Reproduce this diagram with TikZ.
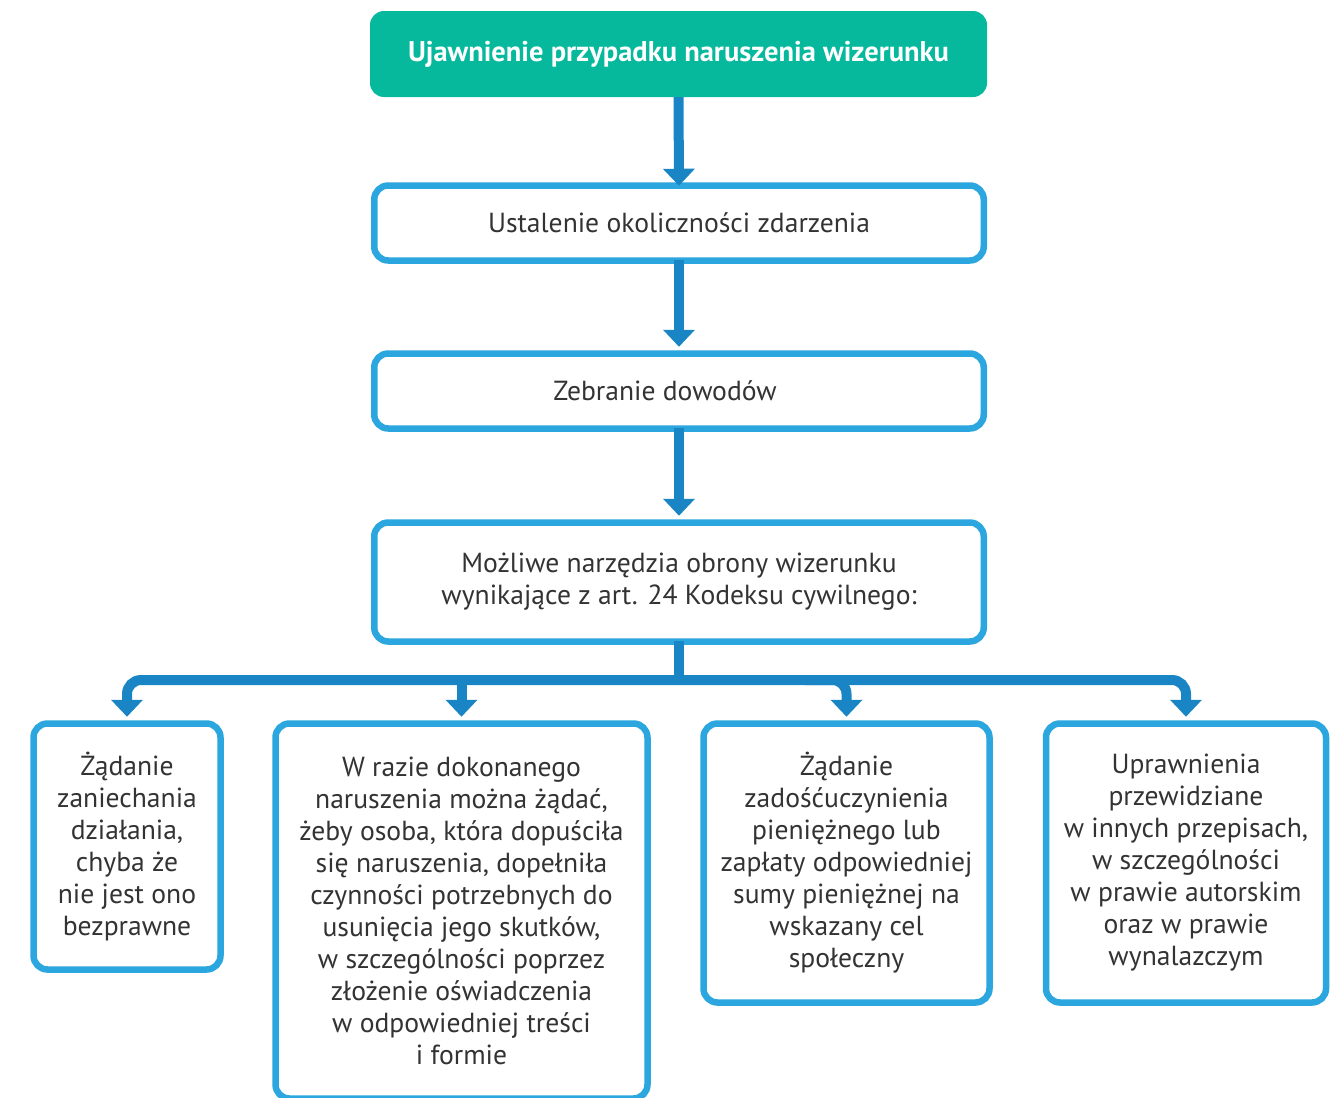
\documentclass[tikz,border=0pt]{standalone}
\usepackage{fontspec}
\setmainfont{PT Sans}
\usetikzlibrary{arrows.meta}
\definecolor{headteal}{HTML}{06B89C}
\definecolor{framblue}{HTML}{2BA6DE}
\definecolor{linkblue}{HTML}{1A85C4}
\definecolor{bodygray}{HTML}{333333}
\tikzset{
  headbox/.style={fill=headteal, rounded corners=14pt, align=center, text=white,
    font=\fontsize{28.5}{32}\selectfont\bfseries, inner sep=0pt},
  framebox/.style={draw=framblue, line width=6.5pt, fill=white, rounded corners=14pt,
    align=center, text=bodygray, font=\fontsize{27.6}{32}\selectfont, inner sep=0pt},
  link/.style={draw=linkblue, line width=10pt},
  linkarrow/.style={link, -{Triangle[width=31pt,length=17pt]}, shorten >=3.5pt},
}
\begin{document}
\begin{tikzpicture}[x=1pt,y=-1pt]
\useasboundingbox (0,0) rectangle (1342,1098);

% main chain
\node[headbox, minimum width=617pt, minimum height=86pt] (top) at (678.5,54)
  {Ujawnienie przypadku naruszenia wizerunku};
\node[framebox, minimum width=609.5pt, minimum height=75pt] (facts) at (679,223)
  {Ustalenie okoliczności zdarzenia};
\node[framebox, minimum width=609.5pt, minimum height=75pt] (proof) at (679,391)
  {Zebranie dowodów\hspace*{28pt}};
\node[framebox, minimum width=609.5pt, minimum height=119pt] (tools) at (679,582)
  {Możliwe narzędzia obrony wizerunku\\wynikające z art. 24 Kodeksu cywilnego:};

% the four remedies
\node[framebox, minimum width=187pt, minimum height=246pt] (stop) at (127,846.5)
  {Żądanie\\zaniechania\\działania,\\chyba że\\nie jest ono\\bezprawne};
\node[framebox, minimum width=372pt, minimum height=375pt] (repair) at (461.5,911)
  {W razie dokonanego\\naruszenia można żądać,\\żeby osoba, która dopuściła\\się naruszenia, dopełniła\\czynności potrzebnych do\\usunięcia jego skutków,\\w szczególności poprzez\\złożenie oświadczenia\\w odpowiedniej treści\\i formie};
\node[framebox, minimum width=286pt, minimum height=279pt] (money) at (846.5,863)
  {Żądanie\\zadośćuczynienia\\pieniężnego lub\\zapłaty odpowiedniej\\sumy pieniężnej na\\wskazany cel\\społeczny};
\node[framebox, minimum width=280pt, minimum height=279pt] (other) at (1186,863)
  {Uprawnienia\\przewidziane\\w innych przepisach,\\w szczególności\\w prawie autorskim\\oraz w prawie\\wynalazczym};

% connectors between the stages
\draw[linkarrow, shorten >=0pt] (top.south) -- ([yshift=-3.5pt]facts.north);
\draw[linkarrow] ([yshift=3.5pt]facts.south) -- (proof.north);
\draw[linkarrow] ([yshift=3.5pt]proof.south) -- (tools.north);

% branching to the remedies
\coordinate (split) at (679,680);
\coordinate (bendC) at (805,680);
\draw[link] ([yshift=3.5pt]tools.south) -- (split);
\draw[linkarrow, rounded corners=14pt] (split) -| (stop.north);
\draw[linkarrow, rounded corners=14pt] (split) -| (other.north);
\draw[linkarrow] (repair.north |- split) -- (repair.north);
\draw[linkarrow, rounded corners=14pt] (bendC) -| (money.north);
\end{tikzpicture}
\end{document}
